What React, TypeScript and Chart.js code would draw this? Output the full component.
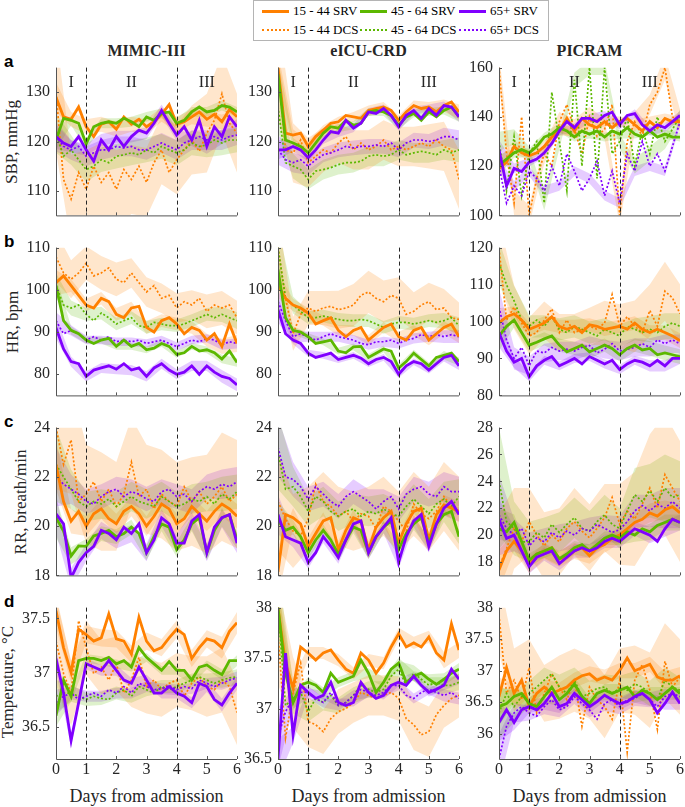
import React, { useEffect, useRef } from "react";
import { Chart, registerables } from "chart.js";
Chart.register(...registerables);

// ---------- shared axes / labels ----------
const DAYS = [0, 0.25, 0.5, 0.75, 1, 1.25, 1.5, 1.75, 2, 2.25, 2.5, 2.75, 3, 3.25, 3.5, 3.75, 4, 4.25, 4.5, 4.75, 5, 5.25, 5.5, 5.75, 6];
const BAND_DAYS = [0, 0.5, 1, 1.5, 2, 2.5, 3, 3.5, 4, 4.5, 5, 5.5, 6];
const X_TICKS = [0, 1, 2, 3, 4, 5, 6];
const PHASE_BOUNDS = [1, 4];
const PHASES = ["I", "II", "III"];
const PHASE_POS = [0.5, 2.5, 5];
const GROUPS = ["15 - 44", "45 - 64", "65+"];
const COHORTS = ["SRV", "DCS"];
const SOURCES = ["MIMIC-III", "eICU-CRD", "PICRAM"];
const VITALS = ["SBP, mmHg", "HR, bpm", "RR, breath/min", "Temperature, °C"];
const ROW_LETTERS = ["a", "b", "c", "d"];
const X_TITLE = "Days from admission";

const SBP_TICKS = [110, 120, 130];
const SBP_TICKS_PICRAM = [100, 120, 140, 160];
const HR_TICKS = [80, 90, 100, 110];
const HR_TICKS_PICRAM = [80, 90, 100, 110, 120];
const RR_TICKS = [18, 20, 22, 24];
const RR_TICKS_PICRAM = [18, 20, 22, 24, 26, 28];
const TEMP_TICKS_MIMIC = [36.5, 37, 37.5];
const TEMP_TICKS_EICU = [36.5, 37, 37.5, 38];
const TEMP_TICKS_PICRAM = [36, 36.5, 37, 37.5, 38];

// ---------- MIMIC-III SBP ----------
const mimicSbpSrv15 = [129,125,124.5,127,123,121,123.5,124,122.5,125,123.5,124.5,123,124,125.5,127.5,123.5,124,125,126,124.5,125.5,124,126.5,125];
const mimicSbpSrv45 = [120.3,124.7,124.3,123.7,119.5,123,123.7,124,123.7,124.7,124,123,125,124.3,125.7,126,123.7,124.3,126,127,126,126.3,127.3,127,126];
const mimicSbpSrv65 = [121,119.7,119,121,118.3,116,120.3,118.3,121,119,121,122.3,121.7,123.7,126.3,123.7,121.3,123,120.3,124.3,119,123,121,125,123];
const mimicSbpDcs15 = [130,112.3,108.3,113.7,110.3,115,111.7,113.7,110.3,114.3,112.3,115,111.7,115.7,118.3,113.7,116.3,118.3,120.3,118,121.7,124.3,129.7,123.7,121.7];
const mimicSbpDcs45 = [121.7,117,118.3,116.3,114.3,115,116.3,115.7,117,117.3,117.7,117.3,118.3,117.7,119,118.3,117.7,118.3,119.7,119,119.3,120.3,119.7,120.3,120.3];
const mimicSbpDcs65 = [121,119,118.3,119,117,117.7,118.3,118.3,119,118.7,119,118.3,118.3,119,119.7,119,118.3,119.7,120.3,121,120.3,121,120.3,121,121.3];
const mimicSbpSrv15Ci = [3,1.5,1.5,1.5,1.5,1.5,1.5,1.5,1.5,1.5,1.5,1.5,1.5];
const mimicSbpSrv45Ci = [2,1,1,1,1,1,1,1,1,1,1,1,1];
const mimicSbpSrv65Ci = [2.5,1.2,1.2,1.2,1.2,1.2,1.2,1.2,1.2,1.2,1.5,1.5,1.5];
const mimicSbpDcs15Ci = [12,9,8,8,8,7,7,7,7,7,8,8,8];
const mimicSbpDcs45Ci = [4,3,2.5,2.5,2.5,2.5,2.5,2.5,2.5,2.5,2.5,2.5,2.5];
const mimicSbpDcs65Ci = [3,2,2,2,2,2,2,2,2,2,2,2,2];

// ---------- eICU-CRD SBP ----------
const eicuSbpSrv15 = [135,121.7,121.3,121.7,119,121,122.3,123.7,124,125.3,125,124.7,126.3,126.7,127,126.3,124.3,126,127.3,126.7,127,126,127.3,128,126];
const eicuSbpSrv45 = [133.7,120.3,119.7,119,117.7,119.7,121.7,123,122.7,124.3,123.3,123.7,126,126.3,126,125.3,123.3,125,125.7,124.3,126,125,126.3,127,125];
const eicuSbpSrv65 = [118.3,118.3,119,118.3,116.7,118.3,120.3,122,121.7,124.3,122.7,123.7,126,125.7,126.7,125.3,123,125.3,126.3,124.7,126.7,125.3,127.3,127,125];
const eicuSbpDcs15 = [135,118.3,117.7,120.3,115.7,117,118.3,117.7,119.7,121,118.3,119.7,118.3,119,120.3,118.3,119,118.3,119,119.7,119,120.3,119,118.3,112.3];
const eicuSbpDcs45 = [127,115.7,115,114.3,112.3,114,114.3,114.7,115.3,115.7,115.7,116,117,117.3,117,117.3,118.3,117.3,117.7,118,117.7,117.3,118.3,117.7,118.3];
const eicuSbpDcs65 = [118.3,116.3,115.7,116.3,115,116.3,117.3,117.7,118.3,119,118.7,119,119,119.3,119,119.7,118.3,119.7,120.3,120.3,120,120.3,121,121,120.3];
const eicuSbpSrv15Ci = [3,1.2,1,1,1,1,1,1,1,1,1,1.2,1.5];
const eicuSbpSrv45Ci = [3,1,0.8,0.8,0.8,0.8,0.8,0.8,0.8,0.8,0.8,0.8,1];
const eicuSbpSrv65Ci = [2,1,0.8,0.8,0.8,0.8,0.8,0.8,0.8,0.8,0.8,0.8,1];
const eicuSbpDcs15Ci = [10,6,5,4.5,4,4,4,4,4,4,4.5,5,6];
const eicuSbpDcs45Ci = [5,2.5,2,2,2,2,2,2,2,2,2,2,2.5];
const eicuSbpDcs65Ci = [3,2,1.8,1.5,1.5,1.5,1.5,1.5,1.5,1.5,1.5,1.8,2];

// ---------- PICRAM SBP ----------
const picramSbpSrv15 = [119.1,121.6,128,125.4,124.2,125.4,128,131.8,134.3,139.4,134.3,139.4,136.8,135.6,138.1,135.6,138.1,139.4,136.8,134.3,138.1,135.6,139.4,138.1,138.1];
const picramSbpSrv45 = [120.4,122.9,125.4,126.7,125.4,128,131.8,133,135.6,134.3,131.8,134.3,133,134.3,131.8,134.3,133,135.6,133,131.8,134.3,131.8,133,131.8,131.8];
const picramSbpSrv65 = [126.7,112,119.1,117.8,121.6,122.9,125.4,129.2,134.3,138.1,135.6,139.4,139.4,138.1,140.6,141.9,136.8,140.6,141.3,136.8,134.3,136.8,135.6,138.1,140.6];
const picramSbpDcs15 = [160,125,105,140,100,115,125,120,138,145,135,125,140,132,135,145,100,130,138,132,145,150,160,140,138];
const picramSbpDcs45 = [130,110,132,108,125,130,105,150,130,110,155,120,160,115,160,125,130,140,120,135,125,140,130,135,140];
const picramSbpDcs65 = [120,105,112,108,118,115,110,120,112,125,118,110,115,122,108,118,105,125,118,130,120,125,118,128,138];
const picramSbpSrv15Ci = [4,2.5,2,2,2,2,2,2,2,2,2,2,2];
const picramSbpSrv45Ci = [4,2,1.8,1.8,1.8,1.8,1.8,1.8,1.8,1.8,1.8,1.8,1.8];
const picramSbpSrv65Ci = [4,2,1.8,1.8,1.8,1.8,1.8,1.8,1.8,1.8,1.8,1.8,1.8];
const picramSbpDcs15Ci = [6,5,4,4,4,4,4,4,4,4,4,5,5];
const picramSbpDcs45Ci = [4,3,3,3,3,3,3,3,3,3,3,3,3];
const picramSbpDcs65Ci = [3,2,2,2,2,2,2,2,2,2,2,2,2];

// ---------- MIMIC-III HR ----------
const mimicHrSrv15 = [101.7,103.3,101,98.7,96.4,95.7,98,97.2,94.2,93.4,95.7,96.1,91.1,90,92.7,93.4,91.9,89.6,91.1,90.4,88.1,89.6,86.6,91.9,87.3];
const mimicHrSrv45 = [101,92.7,90.4,89.6,88.1,87.3,88.1,88.5,86.6,88.1,86.6,87.3,85.8,86.2,87.3,86.6,84.7,85.1,86.6,85.5,85.8,85.1,83.6,85.5,82.8];
const mimicHrSrv65 = [91,86,83,82.5,79.5,81,81.5,82,81.2,82.5,81,81.5,79.5,81.5,82.5,81,80,80.5,82,80,82,80.5,79.5,79,77.5];
const mimicHrDcs15 = [107.8,104,102.5,104,106.3,103.3,104,105.2,102.5,101.7,104,101.7,99.5,101,98,98.7,95.7,97.2,96.4,98,94.9,96.4,95.7,96.4,93.4];
const mimicHrDcs45 = [101,96.4,95.7,96.4,94.2,92.7,94.5,93.4,91.9,92.7,93.4,91.5,91.1,92.3,91.9,91.5,91.5,91.9,92.7,93.4,94.2,93.4,94.2,93.4,92.7];
const mimicHrDcs65 = [92.7,89.6,90.4,89.6,88.1,88.9,88.1,88.9,87.7,88.1,87.7,88.1,87.3,87.7,88.1,87.3,86.6,87.3,88.1,87.7,88.5,88.1,87,87.7,87.3];
const mimicHrSrv15Ci = [3,1.5,1.5,1.5,1.5,1.5,1.5,1.5,1.5,1.5,1.5,1.8,2];
const mimicHrSrv45Ci = [2,1,0.8,0.8,0.8,0.8,0.8,0.8,0.8,0.8,0.8,1,1];
const mimicHrSrv65Ci = [2.5,1.2,1.2,1.2,1.2,1.2,1.2,1.2,1.2,1.2,1.2,1.5,1.5];
const mimicHrDcs15Ci = [6,4.5,4,4,4,3.5,3.5,3.5,3.5,3.5,4,4,4];
const mimicHrDcs45Ci = [3,1.8,1.5,1.5,1.5,1.5,1.5,1.5,1.5,1.5,1.5,1.8,2];
const mimicHrDcs65Ci = [2,1.2,1,1,1,1,1,1,1,1,1,1.2,1.2];

// ---------- eICU-CRD HR ----------
const eicuHrSrv15 = [101,98,96.4,95.7,94.5,91.9,92.7,93.4,90.4,88.9,90.4,91.1,88.1,89.6,91.1,91.9,88.9,88.1,90.4,91.1,88.1,89.6,91.1,91.9,88.9];
const eicuHrSrv45 = [104.8,93.4,90.4,90,88.9,87.3,87.7,88.1,85.5,85.1,86.5,86.6,84,85,86,85.5,81.5,83,85,83.5,82,84,84.5,85,83];
const eicuHrSrv65 = [95.3,89.6,88.1,87.3,85,84,84.5,85,83.5,84,84.5,83.8,82.5,83.5,84,83,80,82,83,82.5,81,82.5,84,84.5,82];
const eicuHrDcs15 = [110,98,89.6,94.2,95.7,94.9,95.7,96.1,95.3,95.7,96.4,98.7,99.5,98,97.2,98.7,98,94.2,94.9,96.4,97.2,95.3,95.7,93.4,93];
const eicuHrDcs45 = [110,98,96.4,94.9,93.4,93.4,93.8,93.4,93,92.7,92.7,93,92.7,91.9,91.1,91.9,92.3,92.3,91.9,92.3,92.7,92.3,92.7,93.4,91.5];
const eicuHrDcs65 = [97.2,92.7,88.9,89.6,88.9,88.1,88.9,89.6,88.9,88.5,88.1,87.3,87,87.7,87.7,88.1,87.3,88.1,88.5,89.4,88.9,89.4,88.9,89.4,88.9];
const eicuHrSrv15Ci = [3,1.5,1.2,1.2,1.2,1.2,1.2,1.2,1.2,1.2,1.2,1.5,1.5];
const eicuHrSrv45Ci = [3,1,0.8,0.8,0.8,0.8,0.8,0.8,0.8,0.8,0.8,1,1];
const eicuHrSrv65Ci = [3,1,0.8,0.8,0.8,0.8,0.8,0.8,0.8,0.8,0.8,1,1];
const eicuHrDcs15Ci = [8,4,4,4,4.5,5,5,5,5,4.5,4.5,4.5,4];
const eicuHrDcs45Ci = [5,2,1.5,1.5,1.5,1.5,1.5,1.5,1.5,1.5,1.5,1.8,2];
const eicuHrDcs65Ci = [3,1.5,1.2,1.2,1.2,1.2,1.2,1.2,1.2,1.2,1.2,1.5,1.5];

// ---------- PICRAM HR ----------
const picramHrSrv15 = [99.6,101.3,102.1,100.4,97.9,98.7,99.6,101.3,98.7,97.9,98.7,97,99.1,98.7,97.9,98.3,98.7,97.9,99.6,97.9,97,97.9,97,96.1,94.8];
const picramHrSrv45 = [96.1,98.7,100.4,97,93.6,94.4,95.3,96.1,93.6,91.8,92.7,93.6,91.8,92.7,93.6,92.7,91,92.7,93.6,92.3,92.7,91,91.5,91,90.5];
const picramHrSrv65 = [97,92,89,90,85,88,89.5,90.5,88,89,90,88.5,90.5,89.5,88.5,89.5,87,88.5,89.5,89,88,89.5,88,90,90];
const picramHrDcs15 = [119.7,100.4,103.9,99.6,96.1,97,100.4,103.4,97,100.4,97,97.9,98.7,97.9,99.6,107.3,98.7,101.3,98.7,97,103,98.7,108.2,106.4,102.1];
const picramHrDcs45 = [115.9,109.9,105.6,100.4,98.7,100.4,98.7,101.3,97.9,97,98.7,97.9,97,96.1,97.9,97,96.1,98.7,97.9,97,97.9,97,98.7,99.6,98.7];
const picramHrDcs65 = [103.9,95,90,93,88,92,91.5,93,92,92.5,92,93,93.5,91.5,92.5,94,92,92.5,93,94,93,95,94,95,94];
const picramHrSrv15Ci = [4,2,1.8,1.8,1.8,1.8,1.8,1.8,1.8,1.8,2,2,2];
const picramHrSrv45Ci = [4,2,1.8,1.8,1.8,1.8,1.8,1.8,1.8,1.8,2,2,2];
const picramHrSrv65Ci = [4,1.5,1.2,1.2,1.2,1.2,1.2,1.2,1.2,1.2,1.5,1.5,1.5];
const picramHrDcs15Ci = [8,6,5,5,5,5,5,6,6,7,7,8,8];
const picramHrDcs45Ci = [6,4,3,3,3,3,3,3,3,3,3.5,3.5,3.5];
const picramHrDcs65Ci = [5,3,2.5,2.5,2.5,2.5,2.5,2.5,2.5,2.5,2.5,2.5,2.5];

// ---------- MIMIC-III RR ----------
const mimicRrSrv15 = [22.5,21,20.2,20.6,20,20.5,20.7,20.3,20.1,20.6,20.8,20.5,20,20.4,20.9,20.7,20.1,20.3,20.8,20.5,20.2,20.6,20.9,20.7,20.4];
const mimicRrSrv45 = [20.34,19.8,18.79,19.2,19.18,19.6,19.7,19.83,19.57,19.7,19.96,19.7,18.92,19.57,20.09,19.96,19.05,19.44,20.09,20.34,18.92,19.83,20.34,20.47,19.44];
const mimicRrSrv65 = [20.5,20.09,17.9,18.53,18.92,19.18,19.83,19.7,19.44,19.96,19.7,20.09,18.92,19.44,20.34,20.09,19.31,19.31,20.21,20.47,18.92,19.96,20.34,20.47,19.31];
const mimicRrDcs15 = [24,22.5,23.5,21,21.3,21.8,21,21.5,20.8,21.3,22.6,21.2,21.5,20.7,21.3,21,20.8,21.6,21,21.4,20.9,21.2,21.6,21,21.3];
const mimicRrDcs45 = [22.5,22,21.5,21,20.8,21,20.9,21.1,20.8,21,21.2,21,20.9,20.8,21.2,21,20.8,20.9,21.1,21,21.2,20.9,21.3,21.1,21.4];
const mimicRrDcs65 = [22,21.7,21.5,21.3,21,20.9,21.2,21.4,21.5,21.2,21.4,21.3,21.1,21,21.4,21.5,21.2,21.3,21,21.4,21.6,21.5,21.7,21.6,21.8];
const mimicRrSrv15Ci = [1,0.5,0.4,0.4,0.4,0.4,0.4,0.4,0.4,0.4,0.4,0.5,0.5];
const mimicRrSrv45Ci = [0.8,0.35,0.3,0.3,0.3,0.3,0.3,0.3,0.3,0.3,0.3,0.35,0.35];
const mimicRrSrv65Ci = [0.8,0.4,0.35,0.35,0.35,0.35,0.35,0.35,0.35,0.35,0.35,0.4,0.4];
const mimicRrDcs15Ci = [2.5,2.2,2,2,1.8,1.8,1.8,1.8,1.8,1.8,2,2.2,2.2];
const mimicRrDcs45Ci = [1.5,0.8,0.6,0.6,0.6,0.6,0.6,0.6,0.6,0.6,0.6,0.7,0.7];
const mimicRrDcs65Ci = [1.2,0.6,0.5,0.5,0.5,0.5,0.5,0.5,0.5,0.5,0.5,0.6,0.6];

// ---------- eICU-CRD RR ----------
const eicuRrSrv15 = [18.15,20.47,20.34,20.09,19.18,19.7,20.21,20.34,19.05,19.83,20.34,20.21,19.05,19.96,20.34,20.6,19.31,20.09,20.6,20.73,19.44,20.47,20.86,20.73,20.6];
const eicuRrSrv45 = [20.21,19.83,19.96,19.57,18.92,19.44,19.83,19.44,18.85,19.44,19.96,19.83,18.92,19.57,19.96,20.21,19.05,19.7,20.09,20.34,19.31,20.09,20.47,20.6,19.57];
const eicuRrSrv65 = [20.47,19.57,19.44,19.31,18.53,18.92,19.57,19.18,18.72,19.44,20.09,20.21,18.92,19.57,19.96,20.34,18.53,19.57,20.21,20.47,19.18,20.09,20.73,21,20.47];
const eicuRrDcs15 = [21,20.3,19.8,19.6,20.3,21.7,21,20.8,20.4,20.6,20.2,20.5,20.4,19.9,20.8,20.6,20.2,19.8,20.9,20.5,20.3,20.6,21.2,20.8,20.5];
const eicuRrDcs45 = [23,21.5,21.6,21.2,20.6,21.2,21,20.6,20.4,20.6,20.7,20.4,20.6,20.5,20.7,20.5,20.4,20.8,21.1,20.8,20.5,20.9,21.1,20.8,21.2];
const eicuRrDcs65 = [23.2,22,21.9,21.6,21.1,21.6,21.3,21,20.8,21.2,21.4,21.2,21,20.7,21,21.2,20.7,21.3,21.5,21.6,21.3,21.2,21.6,21.4,21.4];
const eicuRrSrv15Ci = [1,0.4,0.35,0.35,0.35,0.35,0.35,0.35,0.35,0.35,0.35,0.4,0.4];
const eicuRrSrv45Ci = [0.8,0.3,0.25,0.25,0.25,0.25,0.25,0.25,0.25,0.25,0.25,0.3,0.3];
const eicuRrSrv65Ci = [0.8,0.3,0.25,0.25,0.25,0.25,0.25,0.25,0.25,0.25,0.25,0.3,0.3];
const eicuRrDcs15Ci = [2,1.5,1.3,1.2,1.2,1.2,1.2,1.2,1.2,1.3,1.3,1.4,1.5];
const eicuRrDcs45Ci = [1.5,0.8,0.6,0.6,0.6,0.6,0.6,0.6,0.6,0.6,0.6,0.7,0.7];
const eicuRrDcs65Ci = [1.2,0.7,0.5,0.5,0.5,0.5,0.5,0.5,0.5,0.5,0.5,0.6,0.6];

// ---------- PICRAM RR ----------
const picramRrSrv15 = [17.41,18.82,19.53,18.82,17.76,18.59,18.82,19.06,18.24,18.35,18.82,19.06,18.47,19.06,19.29,19.76,20,20.47,20.94,21.18,21.65,21.41,21.88,22.12,21.65];
const picramRrSrv45 = [20.47,20.24,20.94,19.53,18.12,18.59,18.82,19.06,18.24,18.59,19.06,19.29,18.82,19.29,19.76,20,19.76,20.24,20,20.47,20.24,20.71,20.94,21.18,20.94];
const picramRrSrv65 = [21.18,19.76,20,18.82,17.65,18.35,18.59,18.82,17.88,18.35,18.82,19.06,18.82,19.06,19.53,19.76,19.53,20,20.47,20.24,20,19.53,20.47,21.18,20.94];
const picramRrDcs15 = [17.6,19,20.5,19.5,21,20,19.2,20,19.5,20.5,21,20.3,19.8,20.5,21.3,22.8,20.8,21.8,21.2,22.3,23.5,22,24.5,23.5,22.5];
const picramRrDcs45 = [24,21,20.5,19.5,19.5,20.2,19.8,20.8,20.2,20.8,21.3,20.5,20.3,21,21.5,20.8,20.5,21.8,23,22.5,23.3,22.5,23.5,22.8,23];
const picramRrDcs65 = [21.5,20.5,20,20.5,19.2,19.8,19.5,20.2,19.8,20.3,20,20.5,20.3,20.8,20.5,20.2,20.4,21,21.8,22.2,21.8,22.3,22,22.5,22];
const picramRrSrv15Ci = [1.5,0.7,0.6,0.6,0.6,0.6,0.6,0.6,0.6,0.6,0.7,0.7,0.7];
const picramRrSrv45Ci = [1.5,0.6,0.5,0.5,0.5,0.5,0.5,0.5,0.5,0.5,0.6,0.6,0.6];
const picramRrSrv65Ci = [1.5,0.6,0.5,0.5,0.5,0.5,0.5,0.5,0.5,0.5,0.6,0.6,0.6];
const picramRrDcs15Ci = [4,3,2.5,2.5,2.5,2.5,2.5,2.5,3,3.5,4,4.5,4.5];
const picramRrDcs45Ci = [4,2,1.5,1.5,1.5,1.5,1.5,1.5,1.5,2,2,2.5,2.5];
const picramRrDcs65Ci = [3,1.2,1,1,1,1,1,1,1,1.2,1.2,1.5,1.5];

// ---------- MIMIC-III Temperature ----------
const mimicTempSrv15 = [37.57,37.23,37.0,37.4,37.35,37.29,37.32,37.54,37.31,37.29,37.17,37.51,37.29,37.2,37.23,37.32,37.4,37.35,37.13,37.23,37.31,37.29,37.23,37.38,37.46];
const mimicTempSrv45 = [36.6,36.93,36.78,37.11,37.13,37.13,37.11,37.14,37.08,37.11,37.05,37.23,37.14,37.08,37.02,37.1,37.02,37.02,36.93,37.05,37.07,37.02,36.98,37.11,37.11];
const mimicTempSrv65 = [37.13,36.81,36.37,36.72,37.08,37.05,37.02,37.11,37.02,36.93,36.9,37.05,36.93,36.81,36.81,36.87,36.81,36.78,36.72,36.9,36.87,36.75,36.7,36.81,36.9];
const mimicTempDcs15 = [37.29,36.99,36.81,37.48,37.23,36.99,37.05,36.93,37.08,36.81,36.93,37.14,36.87,36.93,36.84,36.9,36.93,36.78,36.9,36.96,36.87,36.84,36.93,36.87,36.63];
const mimicTempDcs45 = [36.78,36.81,36.81,36.78,36.75,36.78,36.76,36.75,36.81,36.84,36.78,36.87,36.84,36.81,36.87,36.84,36.87,36.9,36.93,36.96,36.93,36.9,36.93,36.95,36.96];
const mimicTempDcs65 = [36.72,36.78,36.81,36.75,36.78,36.81,36.78,36.84,36.81,36.87,36.81,36.9,36.87,36.84,36.85,36.88,36.84,36.87,36.85,36.93,36.9,36.87,36.9,36.93,36.95];
const mimicTempSrv15Ci = [0.15,0.1,0.08,0.08,0.08,0.08,0.08,0.08,0.08,0.08,0.08,0.1,0.1];
const mimicTempSrv45Ci = [0.1,0.05,0.04,0.04,0.04,0.04,0.04,0.04,0.04,0.04,0.04,0.05,0.05];
const mimicTempSrv65Ci = [0.12,0.06,0.05,0.05,0.05,0.05,0.05,0.05,0.05,0.05,0.05,0.06,0.06];
const mimicTempDcs15Ci = [0.4,0.3,0.25,0.25,0.25,0.25,0.25,0.25,0.25,0.25,0.28,0.3,0.3];
const mimicTempDcs45Ci = [0.15,0.08,0.06,0.06,0.06,0.06,0.06,0.06,0.06,0.06,0.06,0.07,0.07];
const mimicTempDcs65Ci = [0.12,0.06,0.05,0.05,0.05,0.05,0.05,0.05,0.05,0.05,0.05,0.06,0.06];

// ---------- eICU-CRD Temperature ----------
const eicuTempSrv15 = [38,37.45,37.2,37.61,37.55,37.48,37.55,37.58,37.48,37.39,37.35,37.55,37.48,37.35,37.45,37.61,37.74,37.61,37.65,37.61,37.71,37.55,37.48,37.84,37.58];
const eicuTempSrv45 = [38,37.35,37.06,37.23,37.26,37.23,37.16,37.35,37.26,37.29,37.32,37.48,37.35,37.16,37.26,37.39,37.45,37.26,37.32,37.35,37.29,37.24,37.29,37.35,37.39];
const eicuTempSrv65 = [36.5,37.55,36.74,37.23,37.16,37.1,37.13,37.26,37.06,37.03,37.06,37.26,37.16,37.1,37.13,37.23,37.26,37.23,37.32,37.23,37.16,37.19,37.23,37.39,37.29];
const eicuTempDcs15 = [37.74,36.71,37.16,37.45,36.87,36.84,36.77,36.9,36.97,37,37.06,37.16,37.13,37.1,37.13,37.16,37.1,36.9,36.84,36.74,36.77,36.94,37.03,37.1,37.13];
const eicuTempDcs45 = [38,37.03,37.1,37.16,36.97,37.1,37.06,37.13,37.03,37.06,37.13,37.23,37.19,37.16,37.19,37.32,37.39,37.23,37.35,37.29,37.23,37.26,37.23,37.23,37.26];
const eicuTempDcs65 = [36.71,36.97,37.1,37.16,37.16,37.1,37.06,37.16,37.03,37.06,37.13,37.19,37.16,37.13,37.16,37.23,37.23,37.13,37.1,37.16,37.19,37.16,37.13,37.16,37.1];
const eicuTempSrv15Ci = [0.2,0.1,0.06,0.06,0.06,0.06,0.06,0.06,0.06,0.06,0.06,0.08,0.08];
const eicuTempSrv45Ci = [0.2,0.08,0.05,0.05,0.05,0.05,0.05,0.05,0.05,0.05,0.05,0.06,0.06];
const eicuTempSrv65Ci = [0.2,0.08,0.04,0.04,0.04,0.04,0.04,0.04,0.04,0.04,0.04,0.05,0.05];
const eicuTempDcs15Ci = [0.5,0.35,0.25,0.22,0.22,0.2,0.2,0.2,0.22,0.25,0.25,0.22,0.22];
const eicuTempDcs45Ci = [0.4,0.15,0.1,0.08,0.08,0.08,0.08,0.08,0.08,0.08,0.08,0.08,0.08];
const eicuTempDcs65Ci = [0.3,0.1,0.06,0.05,0.05,0.05,0.05,0.05,0.05,0.05,0.05,0.06,0.06];

// ---------- PICRAM Temperature ----------
const picramTempSrv15 = [36.59,37.05,36.64,36.85,36.43,36.64,36.74,36.64,36.69,36.74,36.85,36.92,36.95,36.85,36.9,36.85,37.0,37.2,37.0,37.05,37.1,36.9,36.85,36.85,36.92];
const picramTempSrv45 = [36.43,36.48,36.59,36.64,36.48,36.43,36.59,36.74,36.54,36.64,36.79,36.59,36.48,36.64,36.69,36.64,36.69,36.74,36.59,36.69,36.64,36.54,36.64,36.74,36.64];
const picramTempSrv65 = [36.18,36.38,36.18,36.38,36.43,36.38,36.48,36.64,36.43,36.48,36.64,36.54,36.43,36.51,36.61,36.54,36.48,36.51,36.59,36.64,36.54,36.33,36.48,36.66,36.48];
const picramTempDcs15 = [37.88,36.64,36.85,36.54,37.05,36.33,36.64,36.95,36.74,36.54,36.85,36.12,36.74,36.54,36.43,36.23,36.85,35.71,36.85,37.1,36.69,36.07,37.15,36.74,36.9];
const picramTempDcs45 = [36.33,36.64,36.43,36.59,36.64,36.74,36.85,36.95,36.74,36.64,36.85,36.59,36.64,36.72,36.74,36.64,36.72,36.69,36.79,36.74,36.64,36.54,36.85,36.74,36.69];
const picramTempDcs65 = [35.6,36.12,36.33,36.43,36.33,36.28,36.43,36.54,36.38,36.43,36.59,36.48,36.38,36.23,36.48,36.54,36.43,36.54,36.56,36.64,36.54,36.43,36.59,36.64,36.59];
const picramTempSrv15Ci = [0.3,0.15,0.12,0.12,0.12,0.12,0.12,0.12,0.12,0.12,0.12,0.14,0.14];
const picramTempSrv45Ci = [0.3,0.12,0.1,0.1,0.1,0.1,0.1,0.1,0.1,0.1,0.1,0.1,0.1];
const picramTempSrv65Ci = [0.3,0.12,0.1,0.1,0.1,0.1,0.1,0.1,0.1,0.1,0.1,0.1,0.1];
const picramTempDcs15Ci = [0.6,0.5,0.45,0.45,0.5,0.5,0.5,0.5,0.5,0.55,0.6,0.6,0.6];
const picramTempDcs45Ci = [0.4,0.25,0.2,0.2,0.2,0.2,0.2,0.2,0.2,0.2,0.2,0.2,0.2];
const picramTempDcs65Ci = [0.4,0.15,0.12,0.12,0.12,0.12,0.12,0.12,0.12,0.12,0.12,0.12,0.12];

// ---------- panel table built from the arrays above ----------
const PANELS = [
  { row: 0, col: 0, min: 105, max: 135, ticks: SBP_TICKS,
    lines: [[mimicSbpSrv15, mimicSbpSrv45, mimicSbpSrv65], [mimicSbpDcs15, mimicSbpDcs45, mimicSbpDcs65]],
    cis: [[mimicSbpSrv15Ci, mimicSbpSrv45Ci, mimicSbpSrv65Ci], [mimicSbpDcs15Ci, mimicSbpDcs45Ci, mimicSbpDcs65Ci]] },
  { row: 0, col: 1, min: 105, max: 135, ticks: SBP_TICKS,
    lines: [[eicuSbpSrv15, eicuSbpSrv45, eicuSbpSrv65], [eicuSbpDcs15, eicuSbpDcs45, eicuSbpDcs65]],
    cis: [[eicuSbpSrv15Ci, eicuSbpSrv45Ci, eicuSbpSrv65Ci], [eicuSbpDcs15Ci, eicuSbpDcs45Ci, eicuSbpDcs65Ci]] },
  { row: 0, col: 2, min: 100, max: 160, ticks: SBP_TICKS_PICRAM,
    lines: [[picramSbpSrv15, picramSbpSrv45, picramSbpSrv65], [picramSbpDcs15, picramSbpDcs45, picramSbpDcs65]],
    cis: [[picramSbpSrv15Ci, picramSbpSrv45Ci, picramSbpSrv65Ci], [picramSbpDcs15Ci, picramSbpDcs45Ci, picramSbpDcs65Ci]] },
  { row: 1, col: 0, min: 75, max: 110, ticks: HR_TICKS,
    lines: [[mimicHrSrv15, mimicHrSrv45, mimicHrSrv65], [mimicHrDcs15, mimicHrDcs45, mimicHrDcs65]],
    cis: [[mimicHrSrv15Ci, mimicHrSrv45Ci, mimicHrSrv65Ci], [mimicHrDcs15Ci, mimicHrDcs45Ci, mimicHrDcs65Ci]] },
  { row: 1, col: 1, min: 75, max: 110, ticks: HR_TICKS,
    lines: [[eicuHrSrv15, eicuHrSrv45, eicuHrSrv65], [eicuHrDcs15, eicuHrDcs45, eicuHrDcs65]],
    cis: [[eicuHrSrv15Ci, eicuHrSrv45Ci, eicuHrSrv65Ci], [eicuHrDcs15Ci, eicuHrDcs45Ci, eicuHrDcs65Ci]] },
  { row: 1, col: 2, min: 80, max: 120, ticks: HR_TICKS_PICRAM,
    lines: [[picramHrSrv15, picramHrSrv45, picramHrSrv65], [picramHrDcs15, picramHrDcs45, picramHrDcs65]],
    cis: [[picramHrSrv15Ci, picramHrSrv45Ci, picramHrSrv65Ci], [picramHrDcs15Ci, picramHrDcs45Ci, picramHrDcs65Ci]] },
  { row: 2, col: 0, min: 18, max: 24, ticks: RR_TICKS,
    lines: [[mimicRrSrv15, mimicRrSrv45, mimicRrSrv65], [mimicRrDcs15, mimicRrDcs45, mimicRrDcs65]],
    cis: [[mimicRrSrv15Ci, mimicRrSrv45Ci, mimicRrSrv65Ci], [mimicRrDcs15Ci, mimicRrDcs45Ci, mimicRrDcs65Ci]] },
  { row: 2, col: 1, min: 18, max: 24, ticks: RR_TICKS,
    lines: [[eicuRrSrv15, eicuRrSrv45, eicuRrSrv65], [eicuRrDcs15, eicuRrDcs45, eicuRrDcs65]],
    cis: [[eicuRrSrv15Ci, eicuRrSrv45Ci, eicuRrSrv65Ci], [eicuRrDcs15Ci, eicuRrDcs45Ci, eicuRrDcs65Ci]] },
  { row: 2, col: 2, min: 17, max: 28, ticks: RR_TICKS_PICRAM,
    lines: [[picramRrSrv15, picramRrSrv45, picramRrSrv65], [picramRrDcs15, picramRrDcs45, picramRrDcs65]],
    cis: [[picramRrSrv15Ci, picramRrSrv45Ci, picramRrSrv65Ci], [picramRrDcs15Ci, picramRrDcs45Ci, picramRrDcs65Ci]] },
  { row: 3, col: 0, min: 36.2, max: 37.6, ticks: TEMP_TICKS_MIMIC,
    lines: [[mimicTempSrv15, mimicTempSrv45, mimicTempSrv65], [mimicTempDcs15, mimicTempDcs45, mimicTempDcs65]],
    cis: [[mimicTempSrv15Ci, mimicTempSrv45Ci, mimicTempSrv65Ci], [mimicTempDcs15Ci, mimicTempDcs45Ci, mimicTempDcs65Ci]] },
  { row: 3, col: 1, min: 36.5, max: 38, ticks: TEMP_TICKS_EICU,
    lines: [[eicuTempSrv15, eicuTempSrv45, eicuTempSrv65], [eicuTempDcs15, eicuTempDcs45, eicuTempDcs65]],
    cis: [[eicuTempSrv15Ci, eicuTempSrv45Ci, eicuTempSrv65Ci], [eicuTempDcs15Ci, eicuTempDcs45Ci, eicuTempDcs65Ci]] },
  { row: 3, col: 2, min: 35.6, max: 38, ticks: TEMP_TICKS_PICRAM,
    lines: [[picramTempSrv15, picramTempSrv45, picramTempSrv65], [picramTempDcs15, picramTempDcs45, picramTempDcs65]],
    cis: [[picramTempSrv15Ci, picramTempSrv45Ci, picramTempSrv65Ci], [picramTempDcs15Ci, picramTempDcs45Ci, picramTempDcs65Ci]] },
];

// ---------- styling / layout ----------
const COLORS = ["#ff8000", "#5cb800", "#8000ff"];
const BAND_COLORS = ["rgba(255,128,0,0.2)", "rgba(92,184,0,0.2)", "rgba(128,0,255,0.2)"];
const INK = "#262626";
const AXIS = "#555555";
const SERIF = '"Liberation Serif", "Times New Roman", serif';
const SANS = '"Liberation Sans", Arial, sans-serif';

const COL_LEFT = [56, 278, 499];
const ROW_TOP = [64, 244, 424, 604];
const PLOT_W = 181;
const PLOT_H = 155;
const PAD_L = 50;
const PAD_T = 12;
const PAD_R = 8;
const YLABEL_CX = [11.5, 12.5, 20.5, 7.5];

function Panel({ p }: { p: any }) {
  const ref = useRef<HTMLCanvasElement | null>(null);
  const isBottom = p.row === 3;
  const xH = isBottom ? 26 : 12;
  const W = PAD_L + PLOT_W + PAD_R;
  const H = PAD_T + PLOT_H + xH;

  useEffect(() => {
    if (!ref.current) return;
    const datasets: any[] = [];
    let ord = 0;
    [0, 1].forEach((c) => {
      [2, 1, 0].forEach((g) => {
        const ys = p.lines[c][g];
        datasets.push({
          data: DAYS.map((d, i) => ({ x: d, y: ys[i] })),
          borderColor: COLORS[g],
          borderWidth: c === 0 ? 2.8 : 1.7,
          borderDash: c === 0 ? [] : [2, 2],
          pointRadius: 0,
          tension: 0,
          fill: false,
          order: ord++,
        });
      });
    });
    [1, 0].forEach((c) => {
      [0, 1, 2].forEach((g) => {
        const ys = p.lines[c][g];
        const hw = p.cis[c][g];
        datasets.push({
          data: BAND_DAYS.map((d, k) => ({ x: d, y: ys[2 * k] + hw[k] })),
          borderWidth: 0,
          pointRadius: 0,
          tension: 0,
          backgroundColor: BAND_COLORS[g],
          fill: "+1",
          order: 20 + ord++,
        });
        datasets.push({
          data: BAND_DAYS.map((d, k) => ({ x: d, y: ys[2 * k] - hw[k] })),
          borderWidth: 0,
          pointRadius: 0,
          tension: 0,
          fill: false,
          order: 20 + ord++,
        });
      });
    });

    const axesPlugin = {
      id: "matlabAxes",
      afterDatasetsDraw(chart: any) {
        const { ctx, chartArea: a, scales } = chart;
        const x = scales.x;
        const y = scales.y;
        ctx.save();
        ctx.lineWidth = 1;
        ctx.strokeStyle = INK;
        ctx.setLineDash([4, 3]);
        PHASE_BOUNDS.forEach((d) => {
          const px = Math.round(x.getPixelForValue(d)) + 0.5;
          ctx.beginPath();
          ctx.moveTo(px, a.top);
          ctx.lineTo(px, a.bottom);
          ctx.stroke();
        });
        ctx.setLineDash([]);
        ctx.strokeStyle = AXIS;
        ctx.beginPath();
        ctx.moveTo(a.left + 0.5, a.top);
        ctx.lineTo(a.left + 0.5, a.bottom + 0.5);
        ctx.lineTo(a.right, a.bottom + 0.5);
        ctx.stroke();
        ctx.beginPath();
        x.ticks.forEach((t: any) => {
          const px = Math.round(x.getPixelForValue(t.value)) + 0.5;
          ctx.moveTo(px, a.bottom);
          ctx.lineTo(px, a.bottom - 3);
        });
        y.ticks.forEach((t: any) => {
          const py = Math.round(y.getPixelForValue(t.value)) + 0.5;
          ctx.moveTo(a.left, py);
          ctx.lineTo(a.left + 3, py);
        });
        ctx.stroke();
        if (p.row === 0) {
          ctx.fillStyle = INK;
          ctx.font = `16px ${SERIF}`;
          ctx.textAlign = "center";
          ctx.textBaseline = "middle";
          PHASES.forEach((s, i) => ctx.fillText(s, x.getPixelForValue(PHASE_POS[i]), a.top + 15));
        }
        ctx.restore();
      },
    };

    const chart = new Chart(ref.current, {
      type: "line",
      data: { datasets },
      options: {
        animation: false,
        responsive: false,
        devicePixelRatio: 1,
        layout: { padding: { left: 0, top: PAD_T, right: PAD_R, bottom: 0 } },
        plugins: { legend: { display: false }, tooltip: { enabled: false } },
        events: [],
        scales: {
          x: {
            type: "linear",
            min: 0,
            max: 6,
            grid: { display: false, drawTicks: false },
            border: { display: false },
            afterBuildTicks: (s: any) => { s.ticks = X_TICKS.map((v) => ({ value: v })); },
            afterFit: (s: any) => { s.height = xH; },
            ticks: {
              display: isBottom,
              padding: 1,
              color: INK,
              font: { family: SERIF, size: 16 },
              maxRotation: 0,
              callback: (v: any) => String(v),
            },
          },
          y: {
            type: "linear",
            min: p.min,
            max: p.max,
            grid: { display: false, drawTicks: false },
            border: { display: false },
            afterBuildTicks: (s: any) => { s.ticks = p.ticks.map((v: number) => ({ value: v })); },
            afterFit: (s: any) => { s.width = PAD_L; },
            ticks: {
              padding: 6,
              color: INK,
              font: { family: SERIF, size: 16 },
              callback: (v: any) => String(v),
            },
          },
        },
      } as any,
      plugins: [axesPlugin],
    } as any);
    return () => chart.destroy();
  }, []);

  return (
    <canvas
      ref={ref}
      width={W}
      height={H}
      style={{
        position: "absolute",
        left: COL_LEFT[p.col] - PAD_L,
        top: ROW_TOP[p.row] - PAD_T,
        width: W,
        height: H,
      }}
    />
  );
}

const LEG_X = [8, 106, 205];

export default function App() {
  return (
    <div style={{ position: "absolute", left: 0, top: 0, width: 685, height: 807, overflow: "hidden", background: "#fff", color: INK }}>
      {/* legend */}
      <div style={{ position: "absolute", left: 253, top: 0, width: 296, height: 41, border: "1px solid #b4b4b4", boxSizing: "border-box", background: "#fff" }}>
        {COHORTS.map((c, ci) =>
          GROUPS.map((g, gi) => (
            <div key={c + g} style={{ position: "absolute", left: LEG_X[gi], top: 1 + ci * 19, height: 18, display: "flex", alignItems: "center", fontFamily: SERIF, fontSize: 13, whiteSpace: "nowrap", color: "#000" }}>
              <span style={{ display: "inline-block", width: 27, marginRight: 4, borderTop: ci === 0 ? `3px solid ${COLORS[gi]}` : `2px dotted ${COLORS[gi]}` }} />
              {`${g} ${c}`}
            </div>
          ))
        )}
      </div>
      {/* column headers */}
      {SOURCES.map((s, i) => (
        <div key={s} style={{ position: "absolute", left: COL_LEFT[i], top: 41, width: PLOT_W, lineHeight: "20px", textAlign: "center", fontFamily: SERIF, fontWeight: "bold", fontSize: 16 }}>{s}</div>
      ))}
      {/* row letters */}
      {ROW_LETTERS.map((l, r) => (
        <div key={l} style={{ position: "absolute", left: 4, top: ROW_TOP[r] - 11, lineHeight: "17px", fontFamily: SANS, fontWeight: "bold", fontSize: 17, color: "#000" }}>{l}</div>
      ))}
      {/* y titles */}
      {VITALS.map((v, r) => (
        <div key={v} style={{ position: "absolute", left: YLABEL_CX[r] - 90, top: ROW_TOP[r] + PLOT_H / 2 - 10, width: 180, lineHeight: "20px", textAlign: "center", fontFamily: SERIF, fontSize: 17, transform: "rotate(-90deg)", whiteSpace: "nowrap" }}>{v}</div>
      ))}
      {/* x titles */}
      {SOURCES.map((s, i) => (
        <div key={s + "x"} style={{ position: "absolute", left: COL_LEFT[i] - 20, top: 786, width: PLOT_W + 40, lineHeight: "20px", textAlign: "center", fontFamily: SERIF, fontSize: 18 }}>{X_TITLE}</div>
      ))}
      {PANELS.map((p, i) => (
        <Panel key={i} p={p} />
      ))}
    </div>
  );
}
